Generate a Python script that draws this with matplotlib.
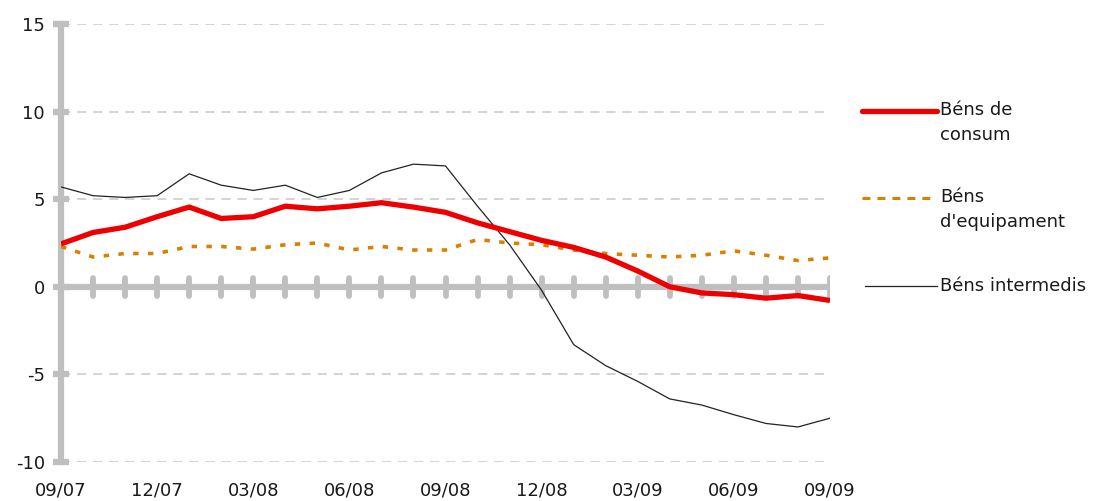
import matplotlib as mpl
from matplotlib import pyplot as plt
from matplotlib.lines import Line2D

# monthly data 09/07 .. 09/09
months = list(range(25))
tick_pos = [0, 3, 6, 9, 12, 15, 18, 21, 24]
tick_labels = ["09/07", "12/07", "03/08", "06/08", "09/08",
               "12/08", "03/09", "06/09", "09/09"]

consum = [2.45, 3.1, 3.4, 4.0, 4.55, 3.9, 4.0, 4.6, 4.45, 4.6, 4.8, 4.55,
          4.25, 3.65, 3.15, 2.65, 2.25, 1.7, 0.9, 0.0, -0.35, -0.45, -0.65,
          -0.5, -0.78]
equipament = [2.3, 1.7, 1.9, 1.9, 2.3, 2.3, 2.15, 2.4, 2.5, 2.1, 2.3, 2.1,
              2.1, 2.7, 2.5, 2.4, 2.1, 1.9, 1.8, 1.7, 1.8, 2.05, 1.8, 1.5,
              1.65]
intermedis = [5.7, 5.2, 5.1, 5.2, 6.45, 5.8, 5.5, 5.8, 5.1, 5.5, 6.5, 7.0,
              6.9, 4.6, 2.4, -0.2, -3.3, -4.5, -5.4, -6.4, -6.75, -7.3, -7.8,
              -8.0, -7.5]

names = ["Béns de\nconsum", "Béns\nd'equipament", "Béns intermedis"]

red = "#ee0000"
orange = "#d98000"
gray = "#bfbfbf"
txt = "#1a1a1a"

mpl.rc('font', family='DejaVu Sans', size=13)
mpl.rcParams['axes.unicode_minus'] = False

fig = plt.figure(figsize=(11.01, 5.01), dpi=100)
ax = fig.add_axes([61 / 1101, 39 / 501, 769 / 1101, 438 / 501])

ax.set_xlim(0, 24)
ax.set_ylim(-10, 15)

# dashed grid
for g in [15, 10, 5, -5, -10]:
    ax.plot([0, 23.85], [g, g], color="#c8c8c8", lw=1.1,
            linestyle=(0, (6, 4.5)), zorder=1)

# zero line with month ticks
ax.axhline(0, color=gray, lw=4.5, zorder=2)
ax.vlines(months[1:], -0.5, 0.5, color=gray, lw=4.2, capstyle='round', zorder=2.5)

ax.plot(months, intermedis, color="#222222", lw=0.9, zorder=3)
ax.plot(months, equipament, color=orange, lw=2.6, dashes=(1.5, 2.6), zorder=4)
ax.plot(months, consum, color=red, lw=3.8, solid_capstyle='butt', zorder=5)

for s in ["top", "right", "bottom"]:
    ax.spines[s].set_visible(False)
ax.spines["left"].set_color(gray)
ax.spines["left"].set_linewidth(4.5)

ax.set_yticks([-10, -5, 0, 5, 10, 15])
ax.tick_params(axis='y', direction='inout', length=11, width=4.5,
               color=gray, pad=6, labelsize=13, labelcolor=txt)
ax.set_xticks(tick_pos)
ax.set_xticklabels(tick_labels)
ax.tick_params(axis='x', length=0, pad=14, labelsize=13, labelcolor=txt)

# legend drawn by hand on the right
def fy(p):
    return (501 - p) / 501

fig.add_artist(Line2D([862 / 1101, 937 / 1101], [fy(111), fy(111)],
                      color=red, lw=3.8, solid_capstyle='round'))
fig.add_artist(Line2D([862 / 1101, 937 / 1101], [fy(198), fy(198)],
                      color=orange, lw=2.2, dashes=(2.6, 2.3)))
fig.add_artist(Line2D([865 / 1101, 937 / 1101], [fy(286), fy(286)],
                      color="#222222", lw=0.9))
fig.text(940 / 1101, fy(101), names[0], va='top', ha='left',
         fontsize=13, linespacing=1.5, color=txt)
fig.text(940 / 1101, fy(188), names[1], va='top', ha='left',
         fontsize=13, linespacing=1.5, color=txt)
fig.text(940 / 1101, fy(286), names[2], va='center', ha='left',
         fontsize=13, color=txt)

plt.savefig("out.png", dpi=100)
